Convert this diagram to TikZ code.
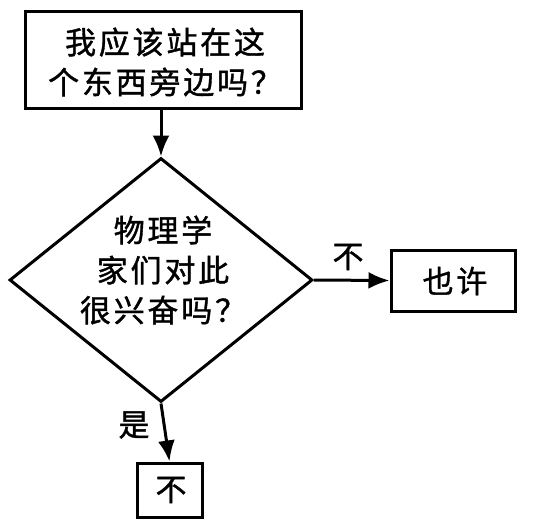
\documentclass[tikz,border=0pt]{standalone}
\usepackage{fontspec}
\newfontfamily\cjk[LetterSpace=9,FakeBold=1.2]{Noto Sans CJK SC}
\usetikzlibrary{shapes.geometric,arrows.meta}
\begin{document}
\begin{tikzpicture}[x=1pt,y=-1pt,
  every node/.style={font=\cjk\fontsize{31}{40}\selectfont},
  box/.style={draw, line width=3pt, rectangle, inner sep=0pt},
  decision/.style={draw, line width=3pt, diamond, inner sep=0pt},
  txt/.style={align=center, inner sep=0pt},
  flow/.style={line width=3pt, -{Latex[length=21pt,width=17pt]}},
  lbl/.style={inner sep=0pt}
]
\useasboundingbox (0,0) rectangle (544,520);
\node[box, minimum width=276pt, minimum height=97pt] (q1) at (163,59.5) {};
\node[txt] (q1t) at (165,62) {我应该站在这\\个东西旁边吗？};
\node[decision, minimum width=303pt, minimum height=244pt] (d) at (161,280) {};
\node[txt] (dt) at (163,270) {物理学\\家们对此\\很兴奋吗？};
\node[box, minimum width=124pt, minimum height=61pt] (maybe) at (453,280.5) {};
\node[txt] (maybet) at (455,281) {也许};
\node[box, minimum width=65pt, minimum height=54pt] (no) at (169.5,490) {};
\node[txt] (not) at (171,490) {不};
\draw[flow] (q1.south -| d.north) -- (d.north);
\draw[flow] (d.east) -- (maybe.west);
\draw[flow] (d.south) -- (no.north);
\node[lbl] (l1) at (348,257) {不};
\node[lbl] (l2) at (134,425) {是};
\end{tikzpicture}
\end{document}
